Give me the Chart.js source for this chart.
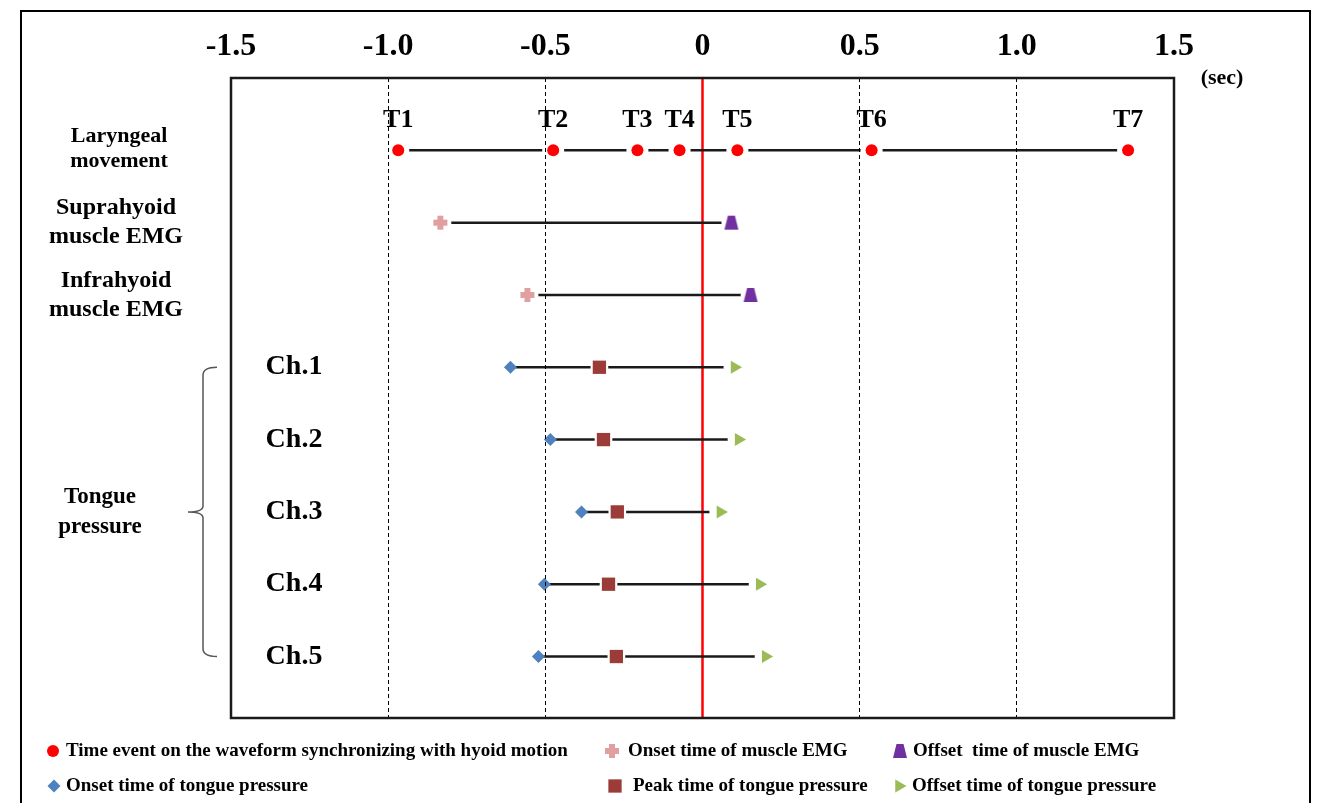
<!DOCTYPE html>
<html>
<head>
<meta charset="utf-8">
<script src="https://cdn.jsdelivr.net/npm/chart.js@4/dist/chart.umd.min.js"></script>
<style>
  html, body { margin: 0; padding: 0; background: #fff; }
  #wrap { width: 1324px; height: 803px; position: relative; }
</style>
</head>
<body>
<div id="wrap"><canvas id="chart"></canvas></div>
<script>
// ============================================================
//  DATA (times in sec)
// ============================================================
const tickLabels = ["-1.5", "-1.0", "-0.5", "0", "0.5", "1.0", "1.5"];
const rowLabels  = ["Laryngeal\nmovement", "Suprahyoid\nmuscle EMG", "Infrahyoid\nmuscle EMG",
                    "Ch.1", "Ch.2", "Ch.3", "Ch.4", "Ch.5"];
const groupLabel = "Tongue\npressure";

// Laryngeal movement events
const eventLabels = ["T1", "T2", "T3", "T4", "T5", "T6", "T7"];
const eventTimes  = [-0.968, -0.475, -0.207, -0.073, 0.111, 0.538, 1.354];

// Muscle EMG (suprahyoid, infrahyoid)
const emgOnset  = [-0.834, -0.557];
const emgOffset = [0.092, 0.153];

// Tongue pressure, Ch.1 .. Ch.5
const tpOnset  = [-0.611, -0.484, -0.385, -0.503, -0.522];
const tpPeak   = [-0.328, -0.315, -0.271, -0.299, -0.274];
const tpOffset = [0.102, 0.115, 0.057, 0.182, 0.201];

const legendLabels = [
  "Time event on the waveform synchronizing with hyoid motion",
  "Onset time of muscle EMG",
  "Offset  time of muscle EMG",
  "Onset time of tongue pressure",
  "Peak time of tongue pressure",
  "Offset time of tongue pressure"
];

// ============================================================
//  STYLE
// ============================================================
const SERIF = "'Liberation Serif', 'Times New Roman', serif";
const BLACK = "#1a1a1a";
const RED   = "#ff0000";
const PINK  = "#e0a0a0";
const PURPLE= "#7030a0";
const BLUE  = "#4f81bd";
const BROWN = "#9b3c38";
const GREEN = "#9bbb59";

// custom marker shapes
function makePlus() {
  const c = document.createElement("canvas");
  c.width = 16; c.height = 16;
  const g = c.getContext("2d");
  g.fillStyle = PINK;
  g.fillRect(5, 1, 6, 14);
  g.fillRect(1, 5, 14, 6);
  return c;
}
function makeTrap() {
  const c = document.createElement("canvas");
  c.width = 16; c.height = 16;
  const g = c.getContext("2d");
  g.fillStyle = PURPLE;
  g.beginPath();
  g.moveTo(4.5, 1); g.lineTo(11.5, 1); g.lineTo(15, 15); g.lineTo(1, 15);
  g.closePath(); g.fill();
  return c;
}
const plusImg = makePlus();
const trapImg = makeTrap();

// row index -> y value
const rowY = i => i + 1;
const EMG0 = 1, CH0 = 3;

// ============================================================
//  DATASETS
// ============================================================
const datasets = [];

function lineDs(points) {
  return { data: points, showLine: true, borderColor: BLACK, borderWidth: 2.5,
           pointRadius: 0, order: 3 };
}
function haloDs(points, style, r) {
  return { data: points, showLine: false, pointStyle: style, pointRadius: r,
           pointBackgroundColor: "#fff", pointBorderWidth: 0, order: 2 };
}

const eventPts = eventTimes.map(t => ({ x: t, y: rowY(0) }));
const emgOnPts  = emgOnset.map((t, i) => ({ x: t, y: rowY(EMG0 + i) }));
const emgOffPts = emgOffset.map((t, i) => ({ x: t, y: rowY(EMG0 + i) }));
const tpOnPts   = tpOnset.map((t, i) => ({ x: t, y: rowY(CH0 + i) }));
const tpPeakPts = tpPeak.map((t, i) => ({ x: t, y: rowY(CH0 + i) }));
const tpOffPts  = tpOffset.map((t, i) => ({ x: t, y: rowY(CH0 + i) }));

// connecting lines
datasets.push(lineDs(eventPts));
emgOnset.forEach((t, i) => datasets.push(lineDs([emgOnPts[i], emgOffPts[i]])));
tpOnset.forEach((t, i) => datasets.push(lineDs([tpOnPts[i], tpPeakPts[i], tpOffPts[i]])));

// white gaps round the markers
datasets.push(haloDs(eventPts, "circle", 11));
datasets.push(haloDs(emgOnPts, "circle", 11));
datasets.push(haloDs(emgOffPts, "circle", 10));
datasets.push(haloDs(tpPeakPts, "rect", 12.5));
datasets.push(haloDs(tpOffPts, "circle", 11));

// markers (same order as legendLabels)
const markers = [
  { pts: eventPts,  style: "circle",  radius: 6,   rotation: 0,  color: RED },
  { pts: emgOnPts,  style: plusImg,   radius: 8,   rotation: 0,  color: PINK },
  { pts: emgOffPts, style: trapImg,   radius: 8,   rotation: 0,  color: PURPLE },
  { pts: tpOnPts,   style: "rectRot", radius: 6.5, rotation: 0,  color: BLUE },
  { pts: tpPeakPts, style: "rect",    radius: 9.4, rotation: 0,  color: BROWN },
  { pts: tpOffPts,  style: "triangle",radius: 7.5, rotation: 90, color: GREEN }
];
markers.forEach((m, i) => {
  datasets.push({
    label: legendLabels[i],
    data: m.pts, showLine: false, pointStyle: m.style, pointRadius: m.radius,
    pointRotation: m.rotation, pointBackgroundColor: m.color, pointBorderWidth: 0,
    order: 1
  });
});

// ============================================================
//  DECORATION PLUGIN (frame, labels, brace, legend)
// ============================================================
function drawLines(ctx, text, x, y, gap) {
  const lines = text.split("\n");
  const y0 = y - (lines.length - 1) * gap / 2;
  lines.forEach((l, i) => ctx.fillText(l, x, y0 + i * gap));
}

const decor = {
  id: "decor",
  beforeDraw(chart) {
    const ctx = chart.ctx;
    ctx.save();
    ctx.fillStyle = "#fff";
    ctx.fillRect(0, 0, chart.width, chart.height);
    ctx.restore();
  },
  beforeDatasetsDraw(chart) {
    const ctx = chart.ctx, a = chart.chartArea;
    const zx = chart.scales.x.getPixelForValue(0);
    ctx.save();
    ctx.strokeStyle = RED;
    ctx.lineWidth = 2.5;
    ctx.beginPath(); ctx.moveTo(zx, a.top); ctx.lineTo(zx, a.bottom); ctx.stroke();
    ctx.restore();
  },
  afterDraw(chart) {
    const ctx = chart.ctx, a = chart.chartArea;
    const xs = chart.scales.x, ys = chart.scales.y;
    ctx.save();

    // outer frame
    ctx.strokeStyle = "#000";
    ctx.lineWidth = 2;
    ctx.strokeRect(21, 11, 1289, 900);

    // plot border
    ctx.lineWidth = 2.5;
    ctx.strokeStyle = BLACK;
    ctx.strokeRect(a.left, a.top, a.right - a.left, a.bottom - a.top);

    ctx.fillStyle = "#000";
    ctx.textAlign = "center";
    ctx.textBaseline = "middle";

    // (sec)
    ctx.font = "bold 22px " + SERIF;
    ctx.fillText("(sec)", 1222, 78);

    // T labels
    ctx.font = "bold 26px " + SERIF;
    eventTimes.forEach((t, i) => {
      ctx.fillText(eventLabels[i], xs.getPixelForValue(t), ys.getPixelForValue(rowY(0)) - 30);
    });

    // row labels
    rowLabels.forEach((lab, i) => {
      const y = ys.getPixelForValue(rowY(i));
      if (i === 0) {
        ctx.font = "bold 22px " + SERIF;
        drawLines(ctx, lab, 119, y - 2, 25);
      } else if (i < CH0) {
        ctx.font = "bold 24px " + SERIF;
        drawLines(ctx, lab, 116, y, 29);
      } else {
        ctx.font = "bold 28px " + SERIF;
        ctx.fillText(lab, 294, y);
      }
    });

    // group label + brace
    const yTop = ys.getPixelForValue(rowY(CH0));
    const yBot = ys.getPixelForValue(rowY(rowLabels.length - 1));
    const yMid = (yTop + yBot) / 2;
    ctx.font = "bold 23px " + SERIF;
    drawLines(ctx, groupLabel, 100, yMid, 30);

    ctx.strokeStyle = "#555";
    ctx.lineWidth = 1.5;
    ctx.beginPath();
    ctx.moveTo(217, yTop);
    ctx.quadraticCurveTo(203, yTop, 203, yTop + 8);
    ctx.lineTo(203, yMid - 6);
    ctx.quadraticCurveTo(203, yMid, 188, yMid);
    ctx.quadraticCurveTo(203, yMid, 203, yMid + 6);
    ctx.lineTo(203, yBot - 8);
    ctx.quadraticCurveTo(203, yBot, 217, yBot);
    ctx.stroke();

    // legend
    const legPos = [
      { mx: 53, tx: 66, y: 751 }, { mx: 612, tx: 628, y: 751 }, { mx: 900, tx: 913, y: 751 },
      { mx: 54, tx: 66, y: 786 }, { mx: 615, tx: 633, y: 786 }, { mx: 899, tx: 912, y: 786 }
    ];
    ctx.font = "bold 19px " + SERIF;
    ctx.textAlign = "left";
    markers.forEach((m, i) => {
      const p = legPos[i];
      ctx.fillStyle = m.color;
      Chart.helpers.drawPoint(ctx, { pointStyle: m.style, radius: m.radius, rotation: m.rotation, borderWidth: 0 }, p.mx, p.y);
      ctx.fillStyle = "#000";
      ctx.fillText(legendLabels[i], p.tx, p.y);
    });

    ctx.restore();
  }
};

// ============================================================
//  CHART
// ============================================================
const chart = new Chart(document.getElementById("chart"), {
  type: "scatter",
  data: { datasets: datasets },
  options: {
    responsive: true,
    maintainAspectRatio: false,
    animation: false,
    layout: { padding: { left: 231, right: 150, top: 0, bottom: 85 } },
    plugins: { legend: { display: false }, tooltip: { enabled: false } },
    scales: {
      x: {
        type: "linear",
        position: "top",
        min: -1.5, max: 1.5,
        afterFit: s => { s.height = 78; },
        ticks: {
          stepSize: 0.5,
          padding: 12,
          color: "#000",
          font: { family: SERIF, size: 32, weight: "bold" },
          callback: v => tickLabels[Math.round((v + 1.5) / 0.5)]
        },
        grid: {
          z: 1,
          drawTicks: false,
          lineWidth: 1,
          color: c => {
            const v = c.tick ? c.tick.value : 0;
            return (Math.abs(v) < 1e-9 || Math.abs(Math.abs(v) - 1.5) < 1e-9) ? "rgba(0,0,0,0)" : "#000";
          }
        },
        border: { display: false, dash: [4, 3] }
      },
      y: {
        type: "linear",
        display: false,
        reverse: true,
        min: 0, max: 8.85
      }
    }
  },
  plugins: [decor]
});
</script>
</body>
</html>
